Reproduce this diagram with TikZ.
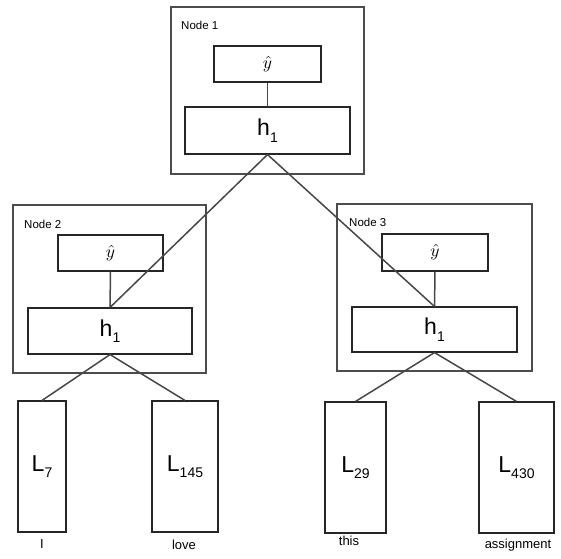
\documentclass[tikz,border=0pt]{standalone}
\usepackage{fontspec}
\setmainfont{Liberation Sans}
\tikzset{
  outerbox/.style={draw=black!70, line width=1.8pt, inner sep=0pt},
  innerbox/.style={draw=black!85, line width=1.1pt, inner sep=0pt, fill=white},
  leafbox/.style={draw=black!85, line width=1.1pt, inner sep=0pt, fill=white},
  conn/.style={draw=black!72, line width=1.5pt},
  nodelabel/.style={anchor=west, inner sep=0pt, font=\fontsize{11.5}{12}\selectfont},
  wordlabel/.style={inner sep=0pt, font=\fontsize{13}{14}\selectfont},
}
\newcommand{\bigsub}[2]{{\fontsize{23}{23}\selectfont #1}\raisebox{-6.5pt}{\fontsize{14}{14}\selectfont #2}}
\newcommand{\yhatlbl}{\scalebox{1.75}{$\hat{y}$}}
\begin{document}
\begin{tikzpicture}[x=1pt,y=-1pt]
\useasboundingbox (0,0) rectangle (561,558);
% outer boxes
\node[outerbox, minimum width=193pt, minimum height=167pt] (o1) at (267.5,90.5) {};
\node[outerbox, minimum width=193pt, minimum height=168pt] (o2) at (109.5,289) {};
\node[outerbox, minimum width=195pt, minimum height=167pt] (o3) at (434.5,287.5) {};
\node[nodelabel] (t1) at (181,25) {Node 1};
\node[nodelabel] (t2) at (24,224) {Node 2};
\node[nodelabel] (t3) at (349,222) {Node 3};
% node 1
\node[innerbox, minimum width=107pt, minimum height=36pt] (y1) at (267.5,64) {\yhatlbl};
\node[innerbox, minimum width=165pt, minimum height=47pt] (h1) at (267.5,130.5) {\bigsub{h}{1}};
% node 2
\node[innerbox, minimum width=105pt, minimum height=36pt] (y2) at (110.5,253) {\yhatlbl};
\node[innerbox, minimum width=164pt, minimum height=46pt] (h2) at (110,331) {\bigsub{h}{1}};
% node 3
\node[innerbox, minimum width=106pt, minimum height=37pt] (y3) at (435,252.5) {\yhatlbl};
\node[innerbox, minimum width=165pt, minimum height=45pt] (h3) at (434.5,329.5) {\bigsub{h}{1}};
% leaves
\node[leafbox, minimum width=48pt, minimum height=131pt] (l7) at (42,466.5) {\bigsub{L}{7}};
\node[leafbox, minimum width=66pt, minimum height=131pt] (l145) at (185,466.5) {\bigsub{L}{145}};
\node[leafbox, minimum width=61pt, minimum height=131pt] (l29) at (355.5,467.5) {\bigsub{L}{29}};
\node[leafbox, minimum width=75pt, minimum height=131pt] (l430) at (516.5,467.5) {\bigsub{L}{430}};
\node[wordlabel] (w1) at (42,544) {I};
\node[wordlabel] (w2) at (184,545) {love};
\node[wordlabel] (w3) at (349,541) {this};
\node[wordlabel] (w4) at (518,545) {assignment};
% connectors
\draw[conn] (y1.south) -- (h1.north);
\draw[conn] (y2.south) -- (h2.north);
\draw[conn] (y3.south) -- (h3.north);
\draw[conn] (h1.south) -- (h2.north);
\draw[conn] (h1.south) -- (h3.north);
\draw[conn] (h2.south) -- (l7.north);
\draw[conn] (h2.south) -- (l145.north);
\draw[conn] (h3.south) -- (l29.north);
\draw[conn] (h3.south) -- (l430.north);
\end{tikzpicture}
\end{document}
